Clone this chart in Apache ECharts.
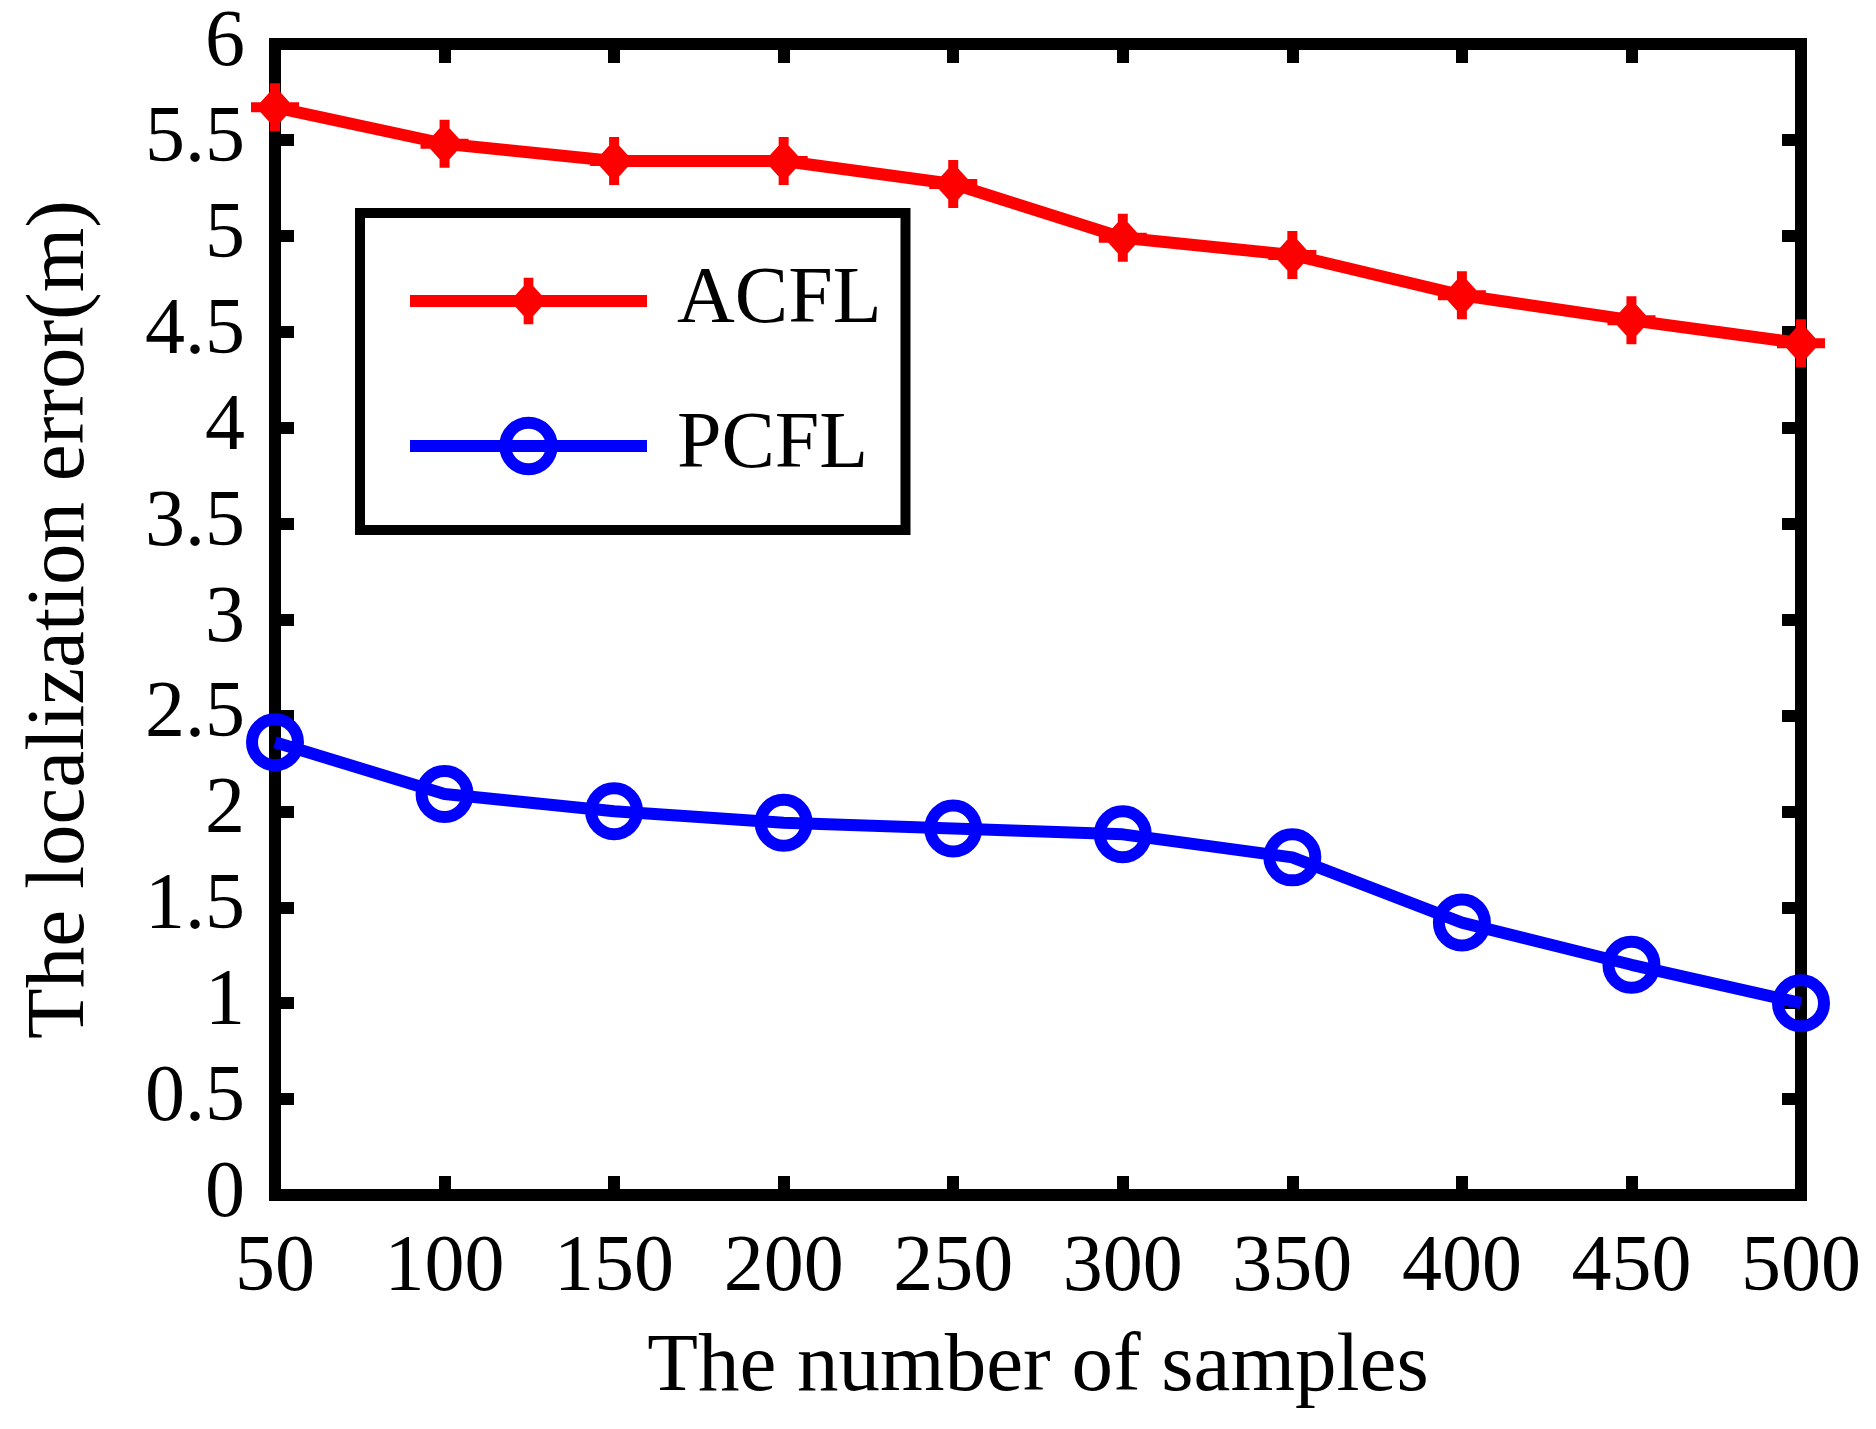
<!DOCTYPE html>
<html>
<head>
<meta charset="utf-8">
<script src="https://cdn.jsdelivr.net/npm/echarts@6/dist/echarts.min.js"></script>
<style>
  html, body { margin: 0; padding: 0; background: #fff; }
  #chart { width: 1876px; height: 1429px; }
</style>
</head>
<body>
<div id="chart"></div>
<script>
// ---- data ----
const samples = [50, 100, 150, 200, 250, 300, 350, 400, 450, 500];
const acfl = [5.67, 5.48, 5.39, 5.39, 5.27, 4.99, 4.90, 4.69, 4.56, 4.44];
const pcfl = [2.36, 2.09, 2.00, 1.94, 1.91, 1.88, 1.76, 1.42, 1.20, 1.00];
const seriesNames = ['ACFL', 'PCFL'];
const xTitle = 'The number of samples';
const yTitle = 'The localization error(m)';

const FONT = "'Liberation Serif', 'Times New Roman', serif";
const diamondPlus = 'path://M24 3 L43 24 L24 45 L5 24 Z M19 0 L29 0 L29 48 L19 48 Z M0 19 L48 19 L48 29 L0 29 Z';

const pairs = (ys) => samples.map((x, i) => [x, ys[i]]);

const axisLineStyle = { color: '#000', width: 12, cap: 'square' };
const tickCfg = { show: true, inside: true, length: 19, lineStyle: { color: '#000', width: 12 } };

const chart = echarts.init(document.getElementById('chart'), null, { renderer: 'canvas' });
chart.setOption({
  backgroundColor: '#fff',
  animation: false,
  textStyle: { fontFamily: FONT },
  grid: { left: 275, right: 75, top: 44, bottom: 234, containLabel: false },
  legend: {
    data: [
      { name: seriesNames[0], lineStyle: { width: 12, color: '#ff0000' }, itemStyle: { color: '#ff0000', borderWidth: 0 } },
      { name: seriesNames[1], lineStyle: { width: 12, color: '#0000ff' }, itemStyle: { color: 'rgba(0,0,0,0)', borderColor: '#0000ff', borderWidth: 12 } }
    ],
    orient: 'vertical',
    left: 360,
    top: 213,
    padding: [48, 24, 44, 44],
    itemGap: 65,
    itemWidth: 237,
    itemHeight: 58,
    borderColor: '#000',
    borderWidth: 10,
    borderRadius: 0,
    backgroundColor: '#fff',
    textStyle: { fontFamily: FONT, fontSize: 80, color: '#000', padding: [0, 0, 0, 25] }
  },
  xAxis: [{
    type: 'value', min: 50, max: 500, interval: 50, position: 'bottom',
    axisLine: { show: true, onZero: false, lineStyle: axisLineStyle },
    axisTick: tickCfg,
    splitLine: { show: false },
    axisLabel: { fontFamily: FONT, fontSize: 80, color: '#000', margin: 34 },
    name: xTitle, nameLocation: 'middle', nameGap: 132,
    nameTextStyle: { fontFamily: FONT, fontSize: 83, color: '#000' }
  }, {
    type: 'value', min: 50, max: 500, interval: 50, position: 'top',
    axisLine: { show: true, onZero: false, lineStyle: axisLineStyle },
    axisTick: tickCfg,
    splitLine: { show: false },
    axisLabel: { show: false }
  }],
  yAxis: [{
    type: 'value', min: 0, max: 6, interval: 0.5, position: 'left',
    axisLine: { show: true, onZero: false, lineStyle: axisLineStyle },
    axisTick: tickCfg,
    splitLine: { show: false },
    axisLabel: { fontFamily: FONT, fontSize: 80, color: '#000', margin: 30 },
    name: yTitle, nameLocation: 'middle', nameGap: 172,
    nameTextStyle: { fontFamily: FONT, fontSize: 83, color: '#000' }
  }, {
    type: 'value', min: 0, max: 6, interval: 0.5, position: 'right',
    axisLine: { show: true, onZero: false, lineStyle: axisLineStyle },
    axisTick: tickCfg,
    splitLine: { show: false },
    axisLabel: { show: false }
  }],
  series: [{
    name: seriesNames[0],
    type: 'line',
    data: pairs(acfl),
    symbol: diamondPlus,
    symbolSize: 48,
    showAllSymbol: true,
    lineStyle: { color: '#ff0000', width: 12 },
    itemStyle: { color: '#ff0000', borderWidth: 0 },
    z: 3
  }, {
    name: seriesNames[1],
    type: 'line',
    data: pairs(pcfl),
    symbol: 'circle',
    symbolSize: 46,
    showAllSymbol: true,
    lineStyle: { color: '#0000ff', width: 12 },
    itemStyle: { color: 'rgba(0,0,0,0)', borderColor: '#0000ff', borderWidth: 12 },
    z: 3
  }]
});
</script>
</body>
</html>
